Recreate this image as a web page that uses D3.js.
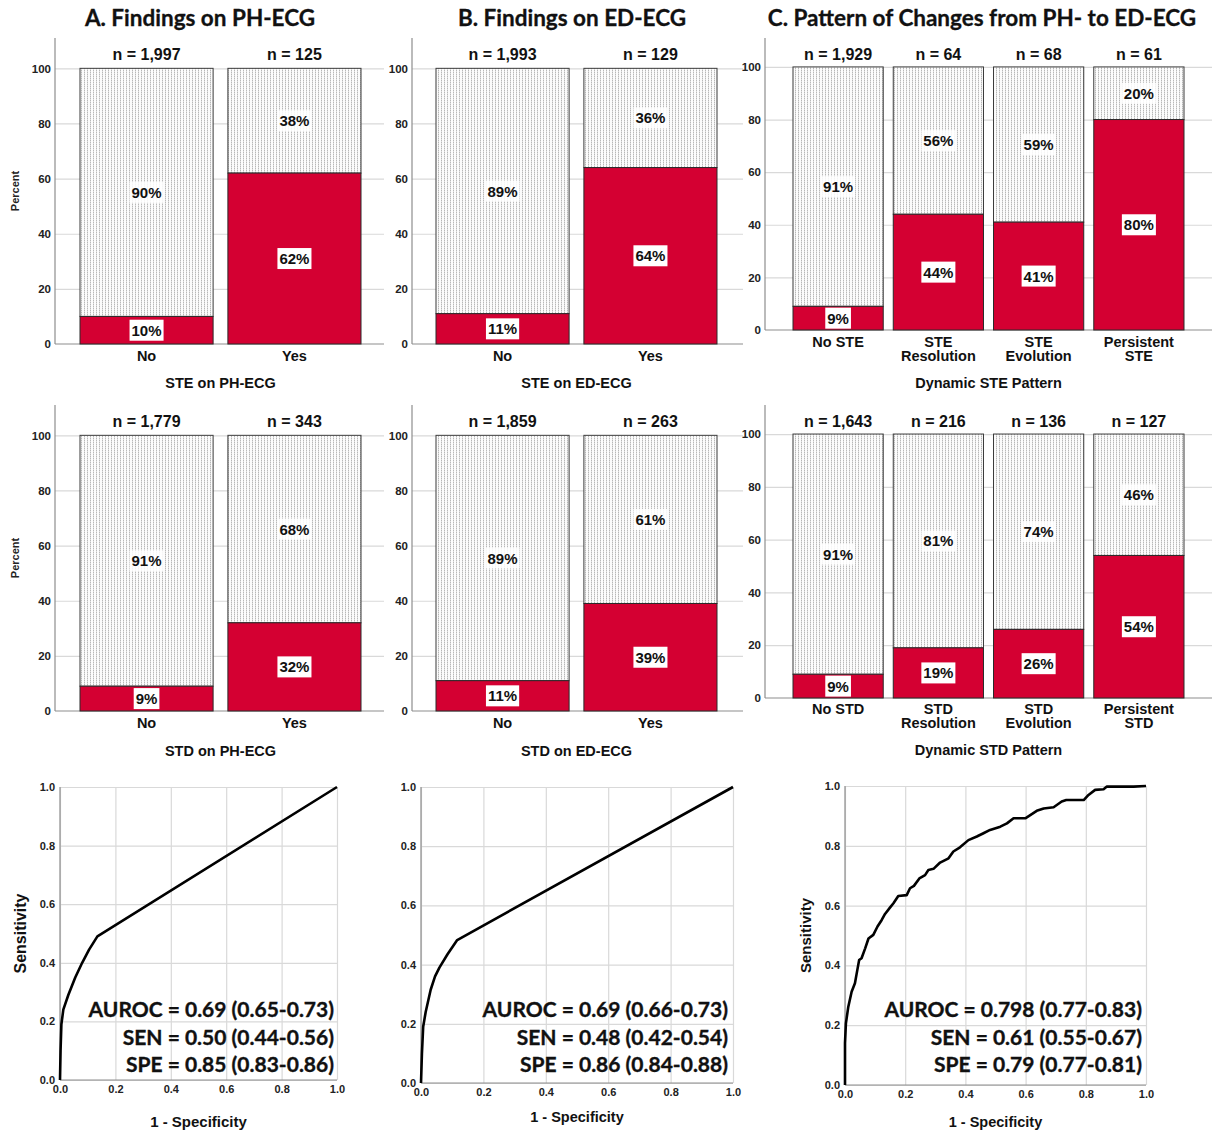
<!DOCTYPE html>
<html>
<head>
<meta charset="utf-8">
<script src="https://cdn.jsdelivr.net/npm/d3@7"></script>
<style>
  body { margin: 0; background: #fff; }
  svg { display: block; }
</style>
</head>
<body>
<svg id="fig" width="1222" height="1135"></svg>
<script>
// ---------- data ----------
const binaryCategories = ["No", "Yes"];
const steDynCategories = ["No STE", "STE Resolution", "STE Evolution", "Persistent STE"];
const stdDynCategories = ["No STD", "STD Resolution", "STD Evolution", "Persistent STD"];
const steDynLabelLines = [["No STE"], ["STE", "Resolution"], ["STE", "Evolution"], ["Persistent", "STE"]];
const stdDynLabelLines = [["No STD"], ["STD", "Resolution"], ["STD", "Evolution"], ["Persistent", "STD"]];

// percent of patients with the outcome (red) and without it (dotted)
const stePHEvent = [10, 62];
const stePHNone = [90, 38];
const stePHN = ["1,997", "125"];

const steEDEvent = [11, 64];
const steEDNone = [89, 36];
const steEDN = ["1,993", "129"];

const steDynEvent = [9, 44, 41, 80];
const steDynNone = [91, 56, 59, 20];
const steDynN = ["1,929", "64", "68", "61"];

const stdPHEvent = [9, 32];
const stdPHNone = [91, 68];
const stdPHN = ["1,779", "343"];

const stdEDEvent = [11, 39];
const stdEDNone = [89, 61];
const stdEDN = ["1,859", "263"];

const stdDynEvent = [9, 19, 26, 54];
const stdDynNone = [91, 81, 74, 46];
const stdDynN = ["1,643", "216", "136", "127"];

const percentTicks = [0, 20, 40, 60, 80, 100];
const rocTicks = [0, 0.2, 0.4, 0.6, 0.8, 1.0];

// ROC curves: [1 - specificity, sensitivity]
const rocPH = [[0, 0], [0.002, 0.1], [0.005, 0.19], [0.012, 0.24], [0.03, 0.29], [0.055, 0.35],
  [0.08, 0.40], [0.105, 0.445], [0.135, 0.49], [1, 1]];
const rocED = [[0, 0], [0.003, 0.1], [0.007, 0.19], [0.015, 0.24], [0.031, 0.315], [0.045, 0.36],
  [0.059, 0.39], [0.085, 0.435], [0.116, 0.483], [1, 1]];
const rocDyn = [[0, 0], [0, 0.14], [0.003, 0.206], [0.011, 0.262], [0.022, 0.312], [0.033, 0.34],
  [0.041, 0.385], [0.047, 0.418], [0.055, 0.424], [0.067, 0.457], [0.078, 0.49], [0.094, 0.502],
  [0.108, 0.53], [0.122, 0.552], [0.133, 0.572], [0.15, 0.594], [0.161, 0.608], [0.177, 0.632],
  [0.205, 0.635], [0.216, 0.658], [0.229, 0.666], [0.247, 0.691], [0.266, 0.702], [0.277, 0.719],
  [0.294, 0.723], [0.316, 0.744], [0.344, 0.758], [0.36, 0.781], [0.382, 0.795], [0.41, 0.819],
  [0.438, 0.831], [0.46, 0.842], [0.482, 0.853], [0.516, 0.864], [0.538, 0.875], [0.56, 0.892],
  [0.599, 0.892], [0.637, 0.917], [0.66, 0.925], [0.693, 0.929], [0.72, 0.948], [0.735, 0.953],
  [0.793, 0.953], [0.809, 0.97], [0.831, 0.987], [0.859, 0.989], [0.87, 0.998], [0.959, 0.998], [1, 1]];

const rocPHStats = ["AUROC = 0.69 (0.65-0.73)", "SEN = 0.50 (0.44-0.56)", "SPE = 0.85 (0.83-0.86)"];
const rocEDStats = ["AUROC = 0.69 (0.66-0.73)", "SEN = 0.48 (0.42-0.54)", "SPE = 0.86 (0.84-0.88)"];
const rocDynStats = ["AUROC = 0.798 (0.77-0.83)", "SEN = 0.61 (0.55-0.67)", "SPE = 0.79 (0.77-0.81)"];

// ---------- styles ----------
const RED = "#d40032";
const ARIAL = "'Liberation Sans', Arial, sans-serif";
const CALIBRI = "Lato, 'Open Sans', sans-serif";
const GRID = "#d9d9d9";
const AXIS = "#8e8e8e";

const svg = d3.select("#fig");
svg.append("rect").attr("width", 1222).attr("height", 1135).attr("fill", "#fff");

// fine dot hatch used for the "no outcome" share of each bar
const defs = svg.append("defs");
const pat = defs.append("pattern").attr("id", "dots")
  .attr("patternUnits", "userSpaceOnUse").attr("width", 3).attr("height", 2);
pat.append("rect").attr("width", 3).attr("height", 2).attr("fill", "#fcfcfc");
pat.append("rect").attr("width", 1).attr("height", 2).attr("fill", "#dedede");
pat.append("rect").attr("width", 1).attr("height", 1).attr("fill", "#b8b8b8");

// ---------- column titles ----------
const titles = [
  { text: "A. Findings on PH-ECG", x: 200 },
  { text: "B. Findings on ED-ECG", x: 572 },
  { text: "C. Pattern of Changes from PH- to ED-ECG", x: 982 }
];
svg.selectAll("text.col-title").data(titles).join("text")
  .attr("class", "col-title")
  .attr("x", d => d.x).attr("y", 26)
  .attr("text-anchor", "middle")
  .style("font-family", CALIBRI).style("font-weight", 700).style("font-size", "22.5px")
  .attr("fill", "#111").attr("stroke", "#111").attr("stroke-width", 0.3)
  .text(d => d.text);

// ---------- stacked percent bar panel ----------
function barPanel(p) {
  const g = svg.append("g");
  const y = d3.scaleLinear().domain([0, 111]).range([p.y0, p.yTop]);
  const x = d3.scaleBand().domain(p.categories).range([p.barL, p.barR]).paddingInner(0.1);

  // horizontal gridlines
  g.append("g").attr("transform", `translate(${p.axisX},0)`)
    .call(d3.axisRight(y).tickValues(percentTicks.slice(1)).tickSize(p.gridR - p.axisX).tickFormat(""))
    .call(s => s.select(".domain").remove())
    .selectAll("line").attr("stroke", GRID).attr("stroke-width", 1.2);

  // axis lines
  g.append("line").attr("x1", p.axisX).attr("x2", p.axisX)
    .attr("y1", y(0)).attr("y2", y(111)).attr("stroke", AXIS).attr("stroke-width", 1.2);
  g.append("line").attr("x1", p.axisX).attr("x2", p.gridR)
    .attr("y1", y(0)).attr("y2", y(0)).attr("stroke", AXIS).attr("stroke-width", 1.2);

  // tick labels
  g.append("g").attr("transform", `translate(${p.axisX},0)`)
    .call(d3.axisLeft(y).tickValues(percentTicks).tickSize(0).tickPadding(4))
    .call(s => s.select(".domain").remove())
    .selectAll("text")
    .style("font-family", ARIAL).style("font-weight", 700).style("font-size", "11.5px")
    .attr("fill", "#222");

  const rows = p.categories.map((c, i) => ({ c, ev: p.event[i], none: p.none[i], n: p.n[i], lines: p.lines[i] }));

  // dotted share (top of each bar)
  g.selectAll("rect.none").data(rows).join("rect")
    .attr("x", d => x(d.c)).attr("width", x.bandwidth())
    .attr("y", d => y(d.ev + d.none)).attr("height", d => y(d.ev) - y(d.ev + d.none))
    .attr("fill", "url(#dots)").attr("stroke", "#3a3a3a").attr("stroke-width", 1);

  // red share (bottom of each bar)
  g.selectAll("rect.ev").data(rows).join("rect")
    .attr("x", d => x(d.c)).attr("width", x.bandwidth())
    .attr("y", d => y(d.ev)).attr("height", d => y(0) - y(d.ev))
    .attr("fill", RED).attr("stroke", "#2a2a2a").attr("stroke-width", 1);

  // value labels with white boxes
  const labels = [];
  rows.forEach(d => {
    labels.push({ cx: x(d.c) + x.bandwidth() / 2, cy: y(d.ev / 2), text: d.ev + "%", solid: true });
    labels.push({ cx: x(d.c) + x.bandwidth() / 2, cy: y(d.ev + d.none / 2), text: d.none + "%", solid: false });
  });
  labels.forEach(l => {
    const lg = g.append("g");
    const box = lg.append("rect");
    const t = lg.append("text").attr("x", l.cx).attr("y", l.cy + 5.5)
      .attr("text-anchor", "middle")
      .style("font-family", ARIAL).style("font-weight", 700).style("font-size", "15px")
      .attr("fill", "#111").text(l.text);
    const w = t.node().getComputedTextLength();
    box.attr("x", l.cx - w / 2 - 2).attr("y", l.cy - 10.5).attr("width", w + 4).attr("height", 21)
      .attr("fill", "#fff").attr("opacity", l.solid ? 1 : 0.85);
  });

  // n above bars
  g.selectAll("text.n").data(rows).join("text")
    .attr("x", d => x(d.c) + x.bandwidth() / 2).attr("y", p.nY)
    .attr("text-anchor", "middle")
    .style("font-family", ARIAL).style("font-weight", 700).style("font-size", "16px")
    .attr("fill", "#111")
    .text(d => "n = " + d.n);

  // category labels
  rows.forEach(d => {
    d.lines.forEach((ln, k) => {
      g.append("text")
        .attr("x", x(d.c) + x.bandwidth() / 2).attr("y", p.catY + k * 14)
        .attr("text-anchor", "middle")
        .style("font-family", ARIAL).style("font-weight", 700).style("font-size", "14.5px")
        .attr("fill", "#111").text(ln);
    });
  });

  // axis title
  g.append("text").attr("x", (p.barL + p.barR) / 2).attr("y", p.titleY)
    .attr("text-anchor", "middle")
    .style("font-family", ARIAL).style("font-weight", 700).style("font-size", "14.5px")
    .attr("fill", "#111").text(p.title);

  if (p.percentLabel) {
    g.append("text")
      .attr("transform", `translate(19,${(y(0) + y(111)) / 2}) rotate(-90)`)
      .attr("text-anchor", "middle")
      .style("font-family", ARIAL).style("font-weight", 700).style("font-size", "11px")
      .attr("fill", "#222").text("Percent");
  }
}

// row 1
barPanel({ categories: binaryCategories, lines: binaryCategories.map(c => [c]), event: stePHEvent, none: stePHNone, n: stePHN,
  axisX: 55, barL: 80, barR: 361, gridR: 384, y0: 344, yTop: 38, nY: 60, catY: 361, titleY: 388,
  title: "STE on PH-ECG", percentLabel: true });
barPanel({ categories: binaryCategories, lines: binaryCategories.map(c => [c]), event: steEDEvent, none: steEDNone, n: steEDN,
  axisX: 412, barL: 436, barR: 717, gridR: 743, y0: 344, yTop: 38, nY: 60, catY: 361, titleY: 388,
  title: "STE on ED-ECG" });
barPanel({ categories: steDynCategories, lines: steDynLabelLines, event: steDynEvent, none: steDynNone, n: steDynN,
  axisX: 765, barL: 793, barR: 1184, gridR: 1212, y0: 330, yTop: 38, nY: 60, catY: 347, titleY: 388,
  title: "Dynamic STE Pattern" });

// row 2
barPanel({ categories: binaryCategories, lines: binaryCategories.map(c => [c]), event: stdPHEvent, none: stdPHNone, n: stdPHN,
  axisX: 55, barL: 80, barR: 361, gridR: 384, y0: 711, yTop: 405, nY: 427, catY: 728, titleY: 756,
  title: "STD on PH-ECG", percentLabel: true });
barPanel({ categories: binaryCategories, lines: binaryCategories.map(c => [c]), event: stdEDEvent, none: stdEDNone, n: stdEDN,
  axisX: 412, barL: 436, barR: 717, gridR: 743, y0: 711, yTop: 405, nY: 427, catY: 728, titleY: 756,
  title: "STD on ED-ECG" });
barPanel({ categories: stdDynCategories, lines: stdDynLabelLines, event: stdDynEvent, none: stdDynNone, n: stdDynN,
  axisX: 765, barL: 793, barR: 1184, gridR: 1212, y0: 698, yTop: 405, nY: 427, catY: 714, titleY: 755,
  title: "Dynamic STD Pattern" });

// ---------- ROC panels ----------
function rocPanel(p) {
  const g = svg.append("g");
  const x = d3.scaleLinear().domain([0, 1]).range([p.x0, p.x1]);
  const y = d3.scaleLinear().domain([0, 1]).range([p.y0, p.y1]);

  g.append("g").attr("transform", `translate(0,${p.y0})`)
    .call(d3.axisTop(x).tickValues(rocTicks).tickSize(p.y0 - p.y1).tickFormat(""))
    .call(s => s.select(".domain").remove())
    .selectAll("line").attr("stroke", GRID).attr("stroke-width", 1.2);
  g.append("g").attr("transform", `translate(${p.x0},0)`)
    .call(d3.axisRight(y).tickValues(rocTicks).tickSize(p.x1 - p.x0).tickFormat(""))
    .call(s => s.select(".domain").remove())
    .selectAll("line").attr("stroke", GRID).attr("stroke-width", 1.2);

  g.append("line").attr("x1", p.x0).attr("x2", p.x0).attr("y1", p.y0).attr("y2", p.y1)
    .attr("stroke", AXIS).attr("stroke-width", 1.2);
  g.append("line").attr("x1", p.x0).attr("x2", p.x1).attr("y1", p.y0).attr("y2", p.y0)
    .attr("stroke", AXIS).attr("stroke-width", 1.2);

  const fmt = d3.format(".1f");
  g.append("g").attr("transform", `translate(${p.x0},0)`)
    .call(d3.axisLeft(y).tickValues(rocTicks).tickSize(0).tickPadding(5).tickFormat(fmt))
    .call(s => s.select(".domain").remove())
    .selectAll("text")
    .style("font-family", ARIAL).style("font-weight", 700).style("font-size", "11px").attr("fill", "#222");
  g.append("g").attr("transform", `translate(0,${p.y0})`)
    .call(d3.axisBottom(x).tickValues(rocTicks).tickSize(0).tickPadding(5).tickFormat(fmt))
    .call(s => s.select(".domain").remove())
    .selectAll("text")
    .style("font-family", ARIAL).style("font-weight", 700).style("font-size", "11px").attr("fill", "#222");

  g.append("path").datum(p.curve)
    .attr("d", d3.line().x(d => x(d[0])).y(d => y(d[1])))
    .attr("fill", "none").attr("stroke", "#000").attr("stroke-width", 2.6)
    .attr("stroke-linejoin", "round");

  g.selectAll("text.stat").data(p.stats).join("text")
    .attr("x", p.statX).attr("y", (d, i) => p.statY + i * 27.5)
    .attr("text-anchor", "end")
    .style("font-family", CALIBRI).style("font-weight", 700).style("font-size", "21px")
    .attr("fill", "#111").attr("stroke", "#111").attr("stroke-width", 0.35)
    .text(d => d);

  g.append("text").attr("x", (p.x0 + p.x1) / 2).attr("y", p.xTitleY)
    .attr("text-anchor", "middle")
    .style("font-family", ARIAL).style("font-weight", 700).style("font-size", p.xTitleSize)
    .attr("fill", "#111").text("1 - Specificity");

  if (p.yTitleX) {
    g.append("text")
      .attr("transform", `translate(${p.yTitleX},${(p.y0 + p.y1) / 2}) rotate(-90)`)
      .attr("text-anchor", "middle")
      .style("font-family", ARIAL).style("font-weight", 700).style("font-size", p.yTitleSize)
      .attr("fill", "#111").text("Sensitivity");
  }
}

rocPanel({ curve: rocPH, stats: rocPHStats, x0: 60, x1: 337, y0: 1080, y1: 787,
  statX: 334, statY: 1017, xTitleY: 1127, xTitleSize: "15px", yTitleX: 26, yTitleSize: "16px" });
rocPanel({ curve: rocED, stats: rocEDStats, x0: 421, x1: 733, y0: 1083, y1: 787,
  statX: 728, statY: 1017, xTitleY: 1122, xTitleSize: "14.5px" });
rocPanel({ curve: rocDyn, stats: rocDynStats, x0: 845, x1: 1146, y0: 1085, y1: 786,
  statX: 1142, statY: 1017, xTitleY: 1127, xTitleSize: "14.5px", yTitleX: 811, yTitleSize: "15px" });
</script>
</body>
</html>
